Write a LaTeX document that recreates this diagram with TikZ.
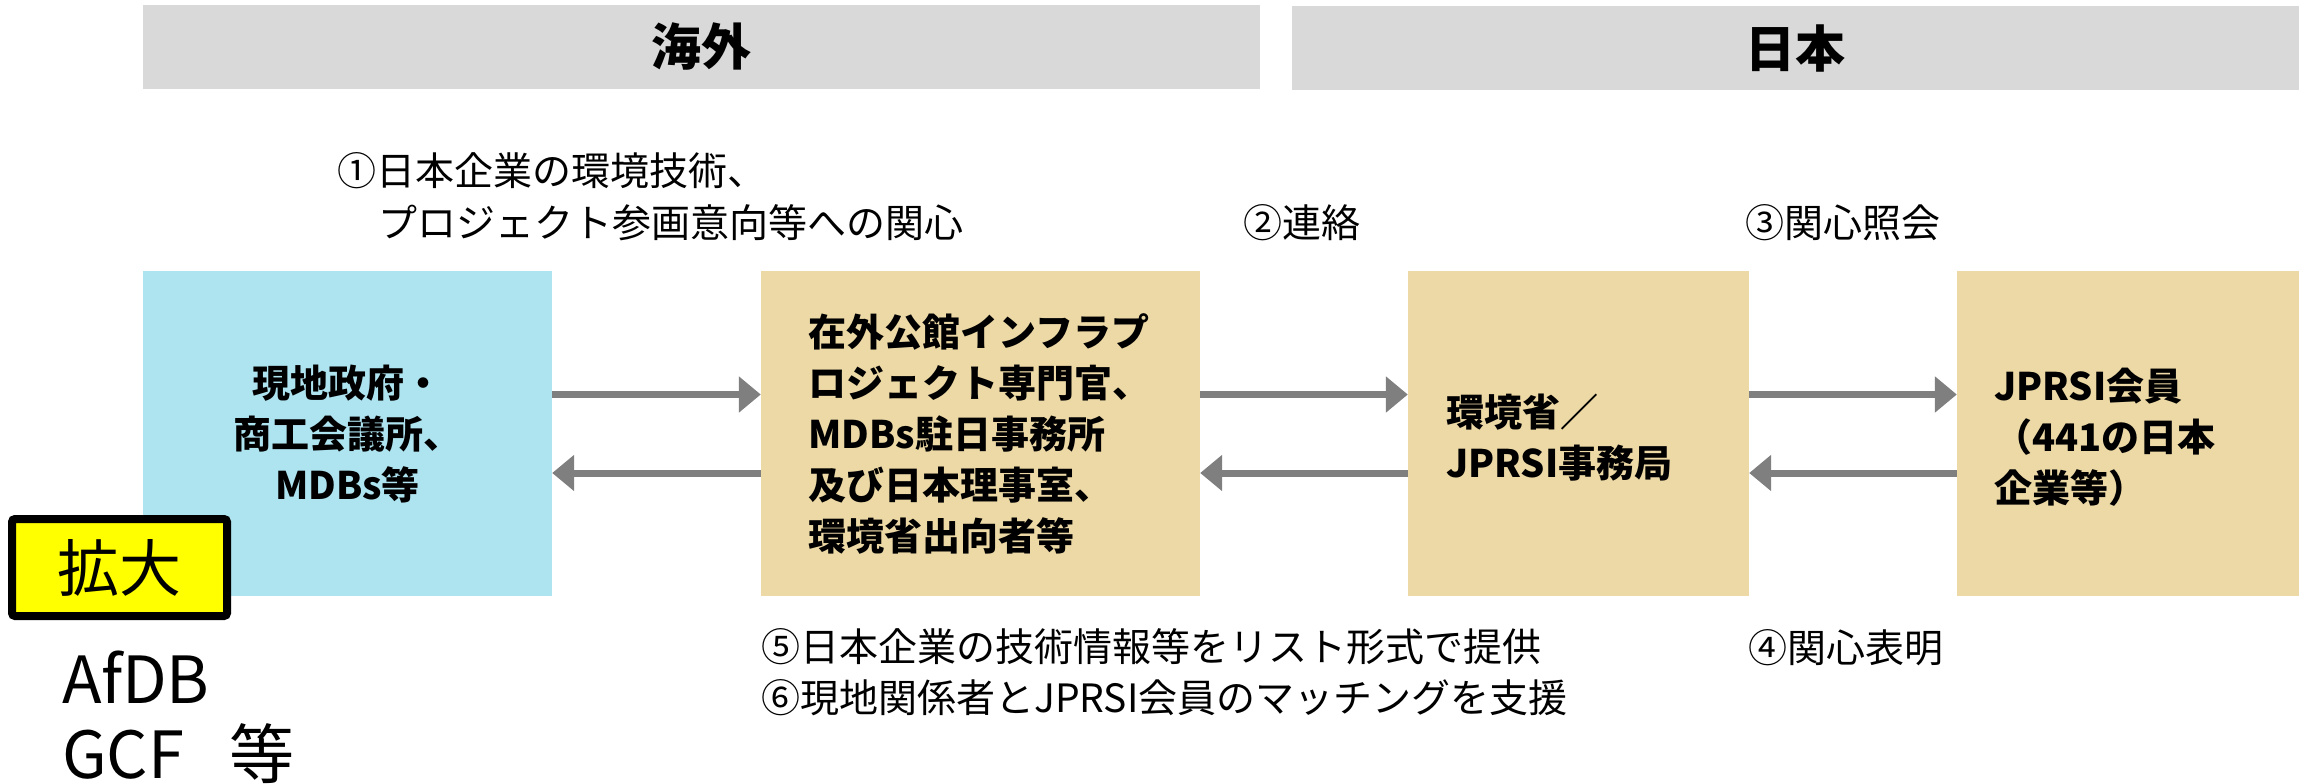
\documentclass[tikz,border=0pt]{standalone}
\usepackage{fontspec}
\setmainfont{Noto Sans CJK JP}
\usetikzlibrary{arrows.meta}
\definecolor{hdrgray}{HTML}{D9D9D9}
\definecolor{lblue}{HTML}{AEE3F0}
\definecolor{boxtan}{HTML}{EDD9A6}
\definecolor{arrgray}{HTML}{7F7F7F}
\definecolor{hiyellow}{HTML}{FFFF00}
\tikzset{
  hdr/.style={fill=hdrgray, inner sep=0pt, minimum height=84pt, font=\fontsize{50}{60}\selectfont\bfseries},
  box/.style={inner sep=0pt, minimum height=325pt},
  btext/.style={inner sep=0pt, font=\fontsize{38}{51}\selectfont\bfseries},
  lbl/.style={inner sep=0pt, anchor=base west, font=\fontsize{39}{51}\selectfont},
  big/.style={inner sep=0pt, anchor=base west, font=\fontsize{65}{75}\selectfont},
  arr/.style={draw=arrgray, line width=7pt, -{Triangle[length=22pt,width=35pt]}},
  tag/.style={draw=black, line width=8pt, fill=hiyellow, rounded corners=3pt, inner sep=0pt,
              minimum width=215pt, minimum height=97pt, font=\fontsize{62}{70}\selectfont},
}
\begin{document}
\begin{tikzpicture}[x=1pt,y=-1pt]
\useasboundingbox (0,0) rectangle (2299,784);
% headers
\node[hdr, minimum width=1117pt] (h1) at (701.5,47) {海外};
\node[hdr, minimum width=1007pt] (h2) at (1795.5,48) {日本};
% boxes
\node[box, fill=lblue, minimum width=409pt] (b1) at (347.5,433.5) {};
\node[box, fill=boxtan, minimum width=439pt] (b2) at (980.5,433.5) {};
\node[box, fill=boxtan, minimum width=341pt] (b3) at (1578.5,433.5) {};
\node[box, fill=boxtan, minimum width=342pt] (b4) at (2128,433.5) {};
% box texts
\node[btext, align=center] (t1) at (347.5,434) {現地政府・\\商工会議所、\\MDBs等};
\node[btext, align=left, anchor=west] (t2) at (808,434) {在外公館インフラプ\\ロジェクト専門官、\\MDBs駐日事務所\\及び日本理事室、\\環境省出向者等};
\node[btext, align=left, anchor=west] (t3) at (1446,438) {環境省／\\JPRSI事務局};
\node[btext, align=left, anchor=west] (t4) at (1994,437) {JPRSI会員\\（441の日本\\企業等）};
% arrows
\draw[arr] ([yshift=39pt]b1.east) -- ([yshift=39pt]b2.west);
\draw[arr] ([yshift=-39.5pt]b2.west) -- ([yshift=-39.5pt]b1.east);
\draw[arr] ([yshift=39pt]b2.east) -- ([yshift=39pt]b3.west);
\draw[arr] ([yshift=-39.5pt]b3.west) -- ([yshift=-39.5pt]b2.east);
\draw[arr] ([yshift=39pt]b3.east) -- ([yshift=39pt]b4.west);
\draw[arr] ([yshift=-39.5pt]b4.west) -- ([yshift=-39.5pt]b3.east);
% labels
\node[lbl] (l1a) at (337,185) {①日本企業の環境技術、};
\node[lbl] (l1b) at (378,237) {プロジェクト参画意向等への関心};
\node[lbl] (l2) at (1243,237) {②連絡};
\node[lbl] (l3) at (1745,237) {③関心照会};
\node[lbl] (l5) at (761,661) {⑤日本企業の技術情報等をリスト形式で提供};
\node[lbl] (l6) at (761,712) {⑥現地関係者とJPRSI会員のマッチングを支援};
\node[lbl] (l4) at (1748,662) {④関心表明};
% enlarge tag
\node[tag] (tg) at (119.5,567.5) {拡大};
\node[big] (afdb) at (62,703) {AfDB};
\node[big] (gcf) at (62,778) {GCF\hspace{45pt}等};
\end{tikzpicture}
\end{document}
